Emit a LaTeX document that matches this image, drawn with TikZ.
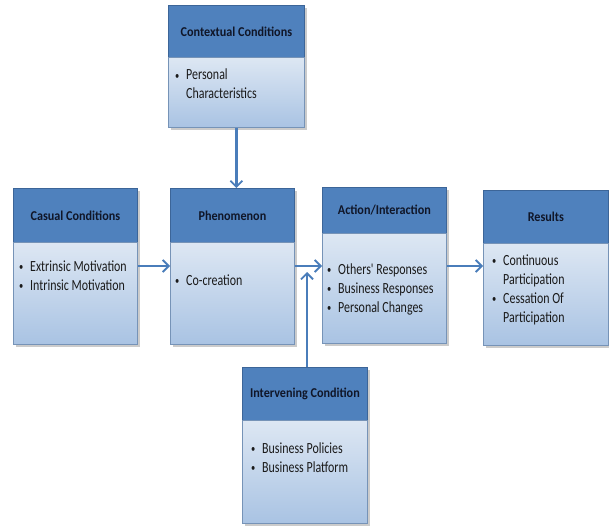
\documentclass[tikz,border=0pt]{standalone}
\usepackage{fontspec}
\setmainfont{Carlito}[FakeStretch=0.9]
\newfontfamily\bodyfont{Carlito}[FakeStretch=0.77]
\usetikzlibrary{arrows.meta,shadows}
\definecolor{hdrc}{HTML}{4F81BD}
\definecolor{bordc}{HTML}{3C6598}
\definecolor{btop}{HTML}{DDE7F3}
\definecolor{bbot}{HTML}{A9C3E3}
\definecolor{arrc}{HTML}{4A7DBA}
\definecolor{htxt}{HTML}{101628}
\definecolor{btxt}{HTML}{1A1A1A}
\tikzset{
  boxshadow/.style={drop shadow={shadow xshift=2.5pt,shadow yshift=-2.5pt,fill=black!45,opacity=0.45}},
  hdr/.style={draw=bordc,line width=0.8pt,fill=hdrc,boxshadow,anchor=north west,inner sep=0pt,
    text=htxt,font=\fontsize{13.5}{15}\selectfont\bfseries},
  bdy/.style={draw=bordc!70,line width=0.8pt,top color=btop,bottom color=bbot,boxshadow,anchor=north west,inner sep=0pt},
  txt/.style={anchor=base west,inner sep=0pt,text=btxt,font=\bodyfont\fontsize{15.5}{19}\selectfont},
  arr/.style={draw=arrc,line width=2.2pt,-{Straight Barb[length=6pt,width=12pt,line width=1.8pt]}},
}
\newcommand{\bul}{\makebox[11pt][l]{\raisebox{0.5pt}{\fontsize{11}{11}\selectfont\textbullet}}}
\begin{document}
\begin{tikzpicture}[x=1pt,y=1pt]
\useasboundingbox (0,0) rectangle (609,-526);
% Contextual
\node[hdr,minimum width=136pt,minimum height=52pt] (ctxH) at (168,-5) {Contextual Conditions};
\node[bdy,minimum width=136pt,minimum height=70pt] (ctxB) at (168,-57) {};
\node[txt] (ctxT) at (175,-80) {\begin{tabular}[t]{@{}l@{}l@{}}\bul & Personal\\ & Characteristics\end{tabular}};
% Casual
\node[hdr,minimum width=124pt,minimum height=54pt] (casH) at (13,-188) {Casual Conditions};
\node[bdy,minimum width=124pt,minimum height=102pt] (casB) at (13,-242) {};
\node[txt] (casT) at (19,-271) {\begin{tabular}[t]{@{}l@{}l@{}}\bul & Extrinsic Motivation\\ \bul & Intrinsic Motivation\end{tabular}};
% Phenomenon
\node[hdr,minimum width=124pt,minimum height=54pt] (pheH) at (170,-188) {Phenomenon};
\node[bdy,minimum width=124pt,minimum height=102pt] (pheB) at (170,-242) {};
\node[txt] (pheT) at (175,-285) {\begin{tabular}[t]{@{}l@{}l@{}}\bul & Co-creation\end{tabular}};
% Action
\node[hdr,minimum width=124pt,minimum height=46pt] (actH) at (322,-187) {Action/Interaction};
\node[bdy,minimum width=124pt,minimum height=110pt] (actB) at (322,-233) {};
\node[txt] (actT) at (327,-274) {\begin{tabular}[t]{@{}l@{}l@{}}\bul & Others' Responses\\ \bul & Business Responses\\ \bul & Personal Changes\end{tabular}};
% Results
\node[hdr,minimum width=125pt,minimum height=53pt] (resH) at (483,-190) {Results};
\node[bdy,minimum width=125pt,minimum height=102pt] (resB) at (483,-243) {};
\node[txt] (resT) at (492,-265) {\begin{tabular}[t]{@{}l@{}l@{}}\bul & Continuous\\ & Participation\\ \bul & Cessation Of\\ & Participation\end{tabular}};
% Intervening
\node[hdr,minimum width=125pt,minimum height=53pt] (intH) at (242,-367) {Intervening Condition};
\node[bdy,minimum width=125pt,minimum height=103pt] (intB) at (242,-420) {};
\node[txt] (intT) at (251,-453) {\begin{tabular}[t]{@{}l@{}l@{}}\bul & Business Policies\\ \bul & Business Platform\end{tabular}};
% connectors
\coordinate (lvl) at (0,-266);
\coordinate (join) at (307,-272);
\draw[arr] (ctxB.south) -- (ctxB.south |- pheH.north);
\draw[arr] (casB.east |- lvl) -- (pheB.west |- lvl);
\draw[arr] (pheB.east |- lvl) -- (actB.west |- lvl);
\draw[arr] (actB.east |- lvl) -- (resB.west |- lvl);
\draw[arr] (intH.north -| join) -- (join);
\end{tikzpicture}
\end{document}
